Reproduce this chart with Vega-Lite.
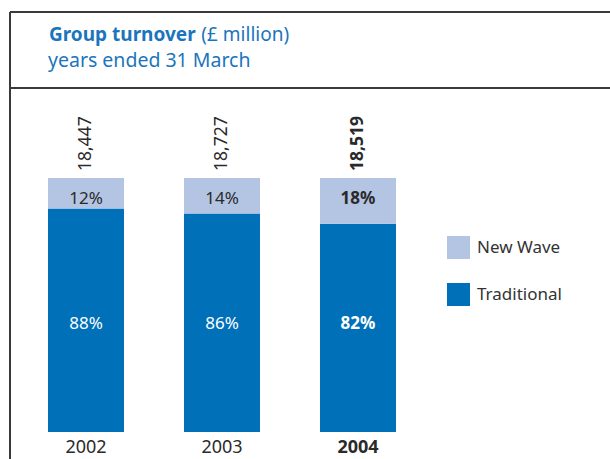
{
  "$schema": "https://vega.github.io/schema/vega-lite/v6.json",
  "width": 600,
  "height": 447,
  "autosize": {"type": "none"},
  "padding": {"left": 10, "top": 12, "right": 0, "bottom": 0},
  "background": "white",
  "config": {"view": {"stroke": null}, "font": "Noto Sans"},
  "datasets": {
    "shares": [
      {"year": 2002, "type": "Traditional", "share": 0.88},
      {"year": 2002, "type": "New Wave", "share": 0.12},
      {"year": 2003, "type": "Traditional", "share": 0.86},
      {"year": 2003, "type": "New Wave", "share": 0.14},
      {"year": 2004, "type": "Traditional", "share": 0.82},
      {"year": 2004, "type": "New Wave", "share": 0.18}
    ],
    "totals": [
      {"year": 2002, "total": 18447},
      {"year": 2003, "total": 18727},
      {"year": 2004, "total": 18519}
    ],
    "frame": [{"pos": 1.65354}, {"pos": 1.35433}]
  },
  "layer": [
    {
      "data": {"name": "shares"},
      "mark": {"type": "bar", "width": 76},
      "encoding": {
        "x": {"field": "year", "type": "quantitative", "scale": {"domain": [2001.4412, 2005.853], "nice": false, "zero": false, "padding": 0}, "axis": null},
        "y": {"field": "share", "type": "quantitative", "stack": "zero", "scale": {"domain": [-0.10630, 1.65354], "nice": false, "zero": false, "padding": 0}, "axis": null},
        "color": {
          "field": "type", "type": "nominal",
          "scale": {"domain": ["New Wave", "Traditional"], "range": ["#b3c5e3", "#0070b8"]},
          "legend": {
            "orient": "none", "legendX": 437, "legendY": 224, "title": null,
            "symbolType": "square", "symbolSize": 529, "symbolStrokeWidth": 0, "symbolOpacity": 1,
            "labelFontSize": 17, "labelColor": "#333333", "labelFont": "Noto Sans",
            "rowPadding": 24, "labelOffset": 7, "padding": 0
          }
        },
        "order": {"field": "type", "sort": "descending"}
      }
    },
    {
      "data": {"name": "frame"},
      "mark": {"type": "rule", "stroke": "#3a3a3a", "strokeWidth": 2},
      "encoding": {"y": {"field": "pos", "type": "quantitative"}}
    },
    {
      "data": {"values": [{}]},
      "mark": {"type": "rule", "stroke": "#3a3a3a", "strokeWidth": 2},
      "encoding": {"x": {"datum": 2001.4412}}
    },
    {
      "data": {"name": "shares"},
      "transform": [{"filter": "datum.type == 'New Wave'"}],
      "mark": {"type": "text", "fontSize": 17, "color": "#2a2a2a", "baseline": "middle", "fontWeight": {"expr": "datum.year == 2004 ? 'bold' : 'normal'"}},
      "encoding": {
        "x": {"field": "year", "type": "quantitative"},
        "y": {"datum": 0.91732},
        "text": {"field": "share", "type": "quantitative", "format": ".0%"}
      }
    },
    {
      "data": {"name": "shares"},
      "transform": [{"filter": "datum.type == 'Traditional'"}],
      "mark": {"type": "text", "fontSize": 17, "color": "white", "baseline": "middle", "fontWeight": {"expr": "datum.year == 2004 ? 'bold' : 'normal'"}},
      "encoding": {
        "x": {"field": "year", "type": "quantitative"},
        "y": {"datum": 0.4252},
        "text": {"field": "share", "type": "quantitative", "format": ".0%"}
      }
    },
    {
      "data": {"name": "totals"},
      "mark": {"type": "text", "fontSize": 17.5, "color": "#2a2a2a", "angle": 270, "align": "left", "baseline": "middle", "fontWeight": {"expr": "datum.year == 2004 ? 'bold' : 'normal'"}},
      "encoding": {
        "x": {"field": "year", "type": "quantitative"},
        "y": {"datum": 1.02756},
        "text": {"field": "total", "type": "quantitative", "format": ","}
      }
    },
    {
      "data": {"name": "totals"},
      "mark": {"type": "text", "fontSize": 18, "color": "#2a2a2a", "baseline": "middle", "fontWeight": {"expr": "datum.year == 2004 ? 'bold' : 'normal'"}},
      "encoding": {
        "x": {"field": "year", "type": "quantitative"},
        "y": {"datum": -0.06299},
        "text": {"field": "year", "type": "quantitative", "format": "d"}
      }
    },
    {
      "data": {"values": [{}]},
      "mark": {"type": "text", "text": "Group turnover", "fontSize": 19, "fontWeight": "bold", "color": "#1b75bc", "align": "left", "baseline": "alphabetic"},
      "encoding": {"x": {"datum": 2001.7279}, "y": {"datum": 1.53937}}
    },
    {
      "data": {"values": [{}]},
      "mark": {"type": "text", "text": "(£ million)", "fontSize": 19, "color": "#1b75bc", "align": "left", "baseline": "alphabetic"},
      "encoding": {"x": {"datum": 2002.848}, "y": {"datum": 1.53937}}
    },
    {
      "data": {"values": [{}]},
      "mark": {"type": "text", "text": "years ended 31 March", "fontSize": 19.5, "color": "#1b75bc", "align": "left", "baseline": "alphabetic"},
      "encoding": {"x": {"datum": 2001.7206}, "y": {"datum": 1.43701}}
    }
  ]
}
